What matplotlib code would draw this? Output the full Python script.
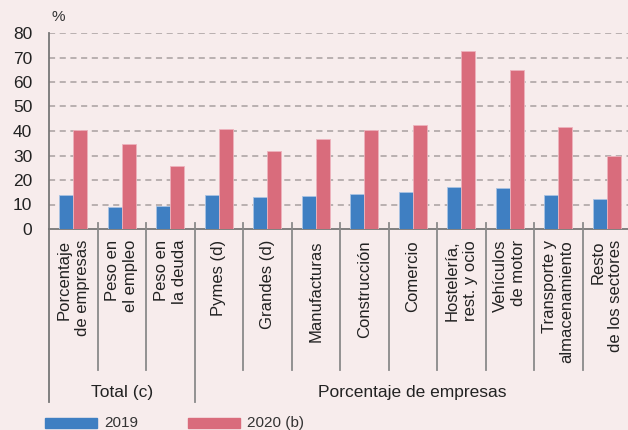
import matplotlib
matplotlib.use("Agg")
import matplotlib.pyplot as plt
import numpy as np
from matplotlib.patches import Rectangle
from matplotlib.lines import Line2D

categories = ["Porcentaje\nde empresas", "Peso en\nel empleo", "Peso en\nla deuda",
              "Pymes (d)", "Grandes (d)", "Manufacturas", "Construcción", "Comercio",
              "Hostelería,\nrest. y ocio", "Vehículos\nde motor", "Transporte y\nalmacenamiento",
              "Resto\nde los sectores"]
v2019 = [14.0, 9.1, 9.4, 13.9, 13.1, 13.6, 14.4, 14.9, 17.2, 16.9, 13.9, 12.4]
v2020 = [40.6, 34.6, 25.6, 40.7, 31.7, 36.8, 40.6, 42.4, 72.5, 64.7, 41.6, 30.0]
groups = ["Total (c)", "Porcentaje de empresas"]
group_sizes = [3, 9]
series_names = ["2019", "2020 (b)"]
yticks = [0, 10, 20, 30, 40, 50, 60, 70, 80]

BG = "#f7ecec"
BLUE = "#3f7fc2"
RED = "#d96c7c"
W, H = 628, 430
plt.rcParams['font.family'] = ['Liberation Sans', 'DejaVu Sans']

fig = plt.figure(figsize=(W/100, H/100), dpi=100, facecolor=BG)
x0, x1 = 49, 631
y0, y1 = 229, 33
ax = fig.add_axes([x0/W, 1 - y0/H, (x1-x0)/W, (y0-y1)/H])
ax.set_facecolor(BG)

n = len(categories)
x = np.arange(n)
bw = 0.285
ax.bar(x - bw/2, v2019, bw, color=BLUE, edgecolor="#a9c3e3", linewidth=0.6, zorder=3)
ax.bar(x + bw/2, v2020, bw, color=RED, edgecolor="#edb3bd", linewidth=0.6, zorder=3)
ax.set_xlim(-0.5, n - 0.5)
ax.set_ylim(0, 80)
ax.set_yticks(yticks)
ax.set_yticklabels([str(t) for t in yticks], fontsize=12.5, color="#222222")
ax.tick_params(axis='y', length=0, pad=12)
ax.set_xticks([])
for t in yticks[1:]:
    ax.axhline(t, color="#a8a0a0", linestyle=(0, (4, 3)), linewidth=1.1, zorder=1)
for s in ["top", "right"]:
    ax.spines[s].set_visible(False)
ax.spines["left"].set_color("#777777")
ax.spines["left"].set_linewidth(1.3)
ax.spines["bottom"].set_color("#777777")
ax.spines["bottom"].set_linewidth(1.3)

fig.text(51/W, 1 - 17/H, "%", fontsize=11, color="#333333", ha="left", va="center")

# category labels
px_per_cat = (x1 - x0) / n
for i, lab in enumerate(categories):
    cx = x0 + px_per_cat * (i + 0.5)
    fig.text(cx / W, 1 - 240/H, lab, rotation=90, ha="center", va="top",
             fontsize=12, color="#222222", multialignment="right", linespacing=1.25)

# separators
boundaries = np.cumsum(group_sizes)
for i in range(1, n):
    xp = x0 + px_per_cat * i
    long = i in boundaries
    ybot = 402 if long else 370
    fig.add_artist(Line2D([xp / W, xp / W], [1 - 223/H, 1 - ybot/H],
                          color="#8a8a8a", linewidth=1.3))
fig.add_artist(Line2D([x0 / W, x0 / W], [1 - 229/H, 1 - 402/H], color="#777777", linewidth=1.3))

# group labels
start = 0
for g, sz in zip(groups, group_sizes):
    cx = x0 + px_per_cat * (start + sz / 2)
    fig.text(cx / W, 1 - 392/H, g, ha="center", va="center", fontsize=12.5, color="#222222")
    start += sz

# legend
for (lx, name, col) in [(45, series_names[0], BLUE), (188, series_names[1], RED)]:
    fig.add_artist(Rectangle((lx / W, 1 - 428/H), 52 / W, 10 / H, color=col,
                             transform=fig.transFigure))
    fig.text((lx + 59) / W, 1 - 423/H, name, ha="left", va="center", fontsize=11, color="#333333")

fig.savefig("out.png", dpi=100, facecolor=BG)
